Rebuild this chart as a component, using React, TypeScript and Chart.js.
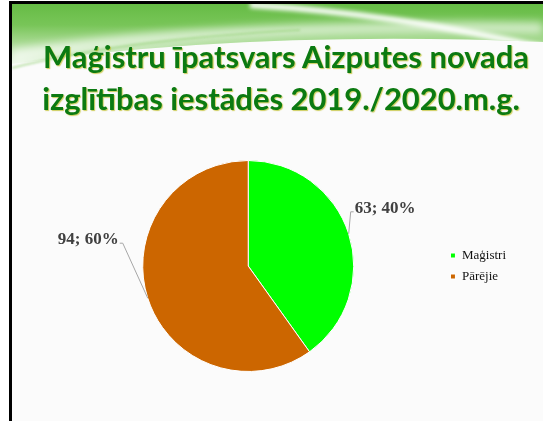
import React, { useEffect, useRef } from 'react';
import { Chart, registerables } from 'chart.js';

Chart.register(...registerables);
Chart.defaults.font.family = "'Liberation Serif', 'Times New Roman', serif";

const categories = ['Maģistri', 'Pārējie'];
const values = [63, 94];
const sliceColors = ['#00ff00', '#cc6600'];
const titleLine1 = 'Maģistru īpatsvars Aizputes novada';
const titleLine2 = 'izglītības iestādēs 2019./2020.m.g.';

const W = 543;
const H = 421;

const leaderPlugin = {
  id: 'leaderLabels',
  afterDatasetsDraw(chart: any, _args: any, opts: any) {
    const ctx = chart.ctx;
    const meta = chart.getDatasetMeta(0);
    const data = chart.data.datasets[0].data as number[];
    const total = data.reduce((a: number, b: number) => a + b, 0);
    meta.data.forEach((arc: any, i: number) => {
      const p = arc.getProps(['x', 'y', 'startAngle', 'endAngle', 'outerRadius'], true);
      const mid = (p.startAngle + p.endAngle) / 2;
      const ex = p.x + Math.cos(mid) * p.outerRadius;
      const ey = p.y + Math.sin(mid) * p.outerRadius;
      const off = opts.offsets[i];
      const bx = ex + off.dx;
      const by = ey + off.dy;
      const right = Math.cos(mid) >= 0;
      const tx = bx + (right ? 3 : -3);
      ctx.save();
      ctx.strokeStyle = opts.lineColor;
      ctx.lineWidth = 1;
      ctx.beginPath();
      ctx.moveTo(ex, ey);
      ctx.lineTo(bx, by);
      ctx.lineTo(tx, by);
      ctx.stroke();
      ctx.font = opts.font;
      ctx.fillStyle = opts.color;
      ctx.textAlign = right ? 'left' : 'right';
      ctx.textBaseline = 'alphabetic';
      const pct = Math.round((data[i] / total) * 100);
      ctx.fillText(`${data[i]}; ${pct}%`, tx + (right ? 1 : -1), by + 1);
      ctx.restore();
    });
  },
};

function drawDecoration(d: CanvasRenderingContext2D) {
  d.fillStyle = '#ffffff';
  d.fillRect(0, 0, W, H);
  d.fillStyle = '#fbfbfb';
  d.fillRect(12, 4, W - 12, H - 4);

  // green band
  d.save();
  d.beginPath();
  d.moveTo(12, 4);
  d.lineTo(W, 4);
  d.lineTo(W, 42);
  d.quadraticCurveTo(250, 30, 12, 64);
  d.closePath();
  d.clip();
  const g = d.createLinearGradient(0, 4, 0, 64);
  g.addColorStop(0, '#66bc45');
  g.addColorStop(0.35, '#78c558');
  g.addColorStop(0.65, '#a8da92');
  g.addColorStop(1, '#eef8ea');
  d.fillStyle = g;
  d.fillRect(12, 4, W - 12, 62);

  // white swoosh
  d.filter = 'blur(2px)';
  d.strokeStyle = 'rgba(255,255,255,0.95)';
  d.lineWidth = 6;
  d.beginPath();
  d.moveTo(250, 5);
  d.quadraticCurveTo(400, 14, W + 10, 50);
  d.stroke();
  d.filter = 'blur(4px)';
  d.strokeStyle = 'rgba(255,255,255,0.65)';
  d.lineWidth = 12;
  d.beginPath();
  d.moveTo(12, 56);
  d.quadraticCurveTo(200, 24, W, 28);
  d.stroke();
  d.restore();

  // faint light-green streak on left
  d.save();
  d.filter = 'blur(1px)';
  d.strokeStyle = 'rgba(150,210,120,0.6)';
  d.lineWidth = 2;
  d.beginPath();
  d.moveTo(12, 68);
  d.quadraticCurveTo(120, 40, 300, 30);
  d.stroke();
  d.restore();

  // frame
  d.fillStyle = '#000000';
  d.fillRect(9, 1, W - 9, 3);
  d.fillRect(9, 1, 3, H - 1);
}

export default function App() {
  const decoRef = useRef<HTMLCanvasElement>(null);
  const chartRef = useRef<HTMLCanvasElement>(null);

  useEffect(() => {
    const dc = decoRef.current;
    if (dc) {
      const d = dc.getContext('2d');
      if (d) drawDecoration(d);
    }
    const cv = chartRef.current;
    if (!cv) return;
    const chart = new Chart(cv, {
      type: 'pie',
      data: {
        labels: categories,
        datasets: [
          {
            data: values,
            backgroundColor: sliceColors,
            borderColor: '#ffffff',
            borderWidth: 1,
          },
        ],
      },
      options: {
        responsive: false,
        animation: false,
        layout: { padding: { left: 54, right: 27, top: 160, bottom: 49 } },
        plugins: {
          title: { display: false },
          tooltip: { enabled: false },
          legend: {
            position: 'right',
            labels: {
              boxWidth: 5,
              boxHeight: 5,
              padding: 8,
              color: '#111111',
              font: { family: "'Liberation Serif', 'Times New Roman', serif", size: 13 },
            },
          },
          leaderLabels: {
            offsets: [
              { dx: 2, dy: -22 },
              { dx: -25, dy: -55 },
            ],
            lineColor: '#a6a6a6',
            color: '#404040',
            font: "bold 17px 'Liberation Serif'",
          },
        } as any,
      },
      plugins: [leaderPlugin],
    });
    return () => chart.destroy();
  }, []);

  const titleStyle: React.CSSProperties = {
    position: 'absolute',
    whiteSpace: 'nowrap',
    fontFamily: "Lato, 'Open Sans', sans-serif",
    fontWeight: 700,
    fontSize: 30,
    lineHeight: '42px',
    color: '#0b7a12',
    textShadow: '1px 1px 1px rgba(190,190,40,0.75)',
    transform: 'translateX(-50%) scaleX(1.03)',
  };

  return (
    <div style={{ position: 'absolute', left: 0, top: 0, width: W, height: H, overflow: 'hidden', background: '#fff' }}>
      <canvas ref={decoRef} width={W} height={H} style={{ position: 'absolute', left: 0, top: 0 }} />
      <div style={{ ...titleStyle, left: 286, top: 35 }}>{titleLine1}</div>
      <div style={{ ...titleStyle, left: 281, top: 77 }}>{titleLine2}</div>
      <canvas
        ref={chartRef}
        width={W}
        height={H}
        style={{ position: 'absolute', left: 0, top: 0, width: W, height: H, pointerEvents: 'none' }}
      />
    </div>
  );
}
